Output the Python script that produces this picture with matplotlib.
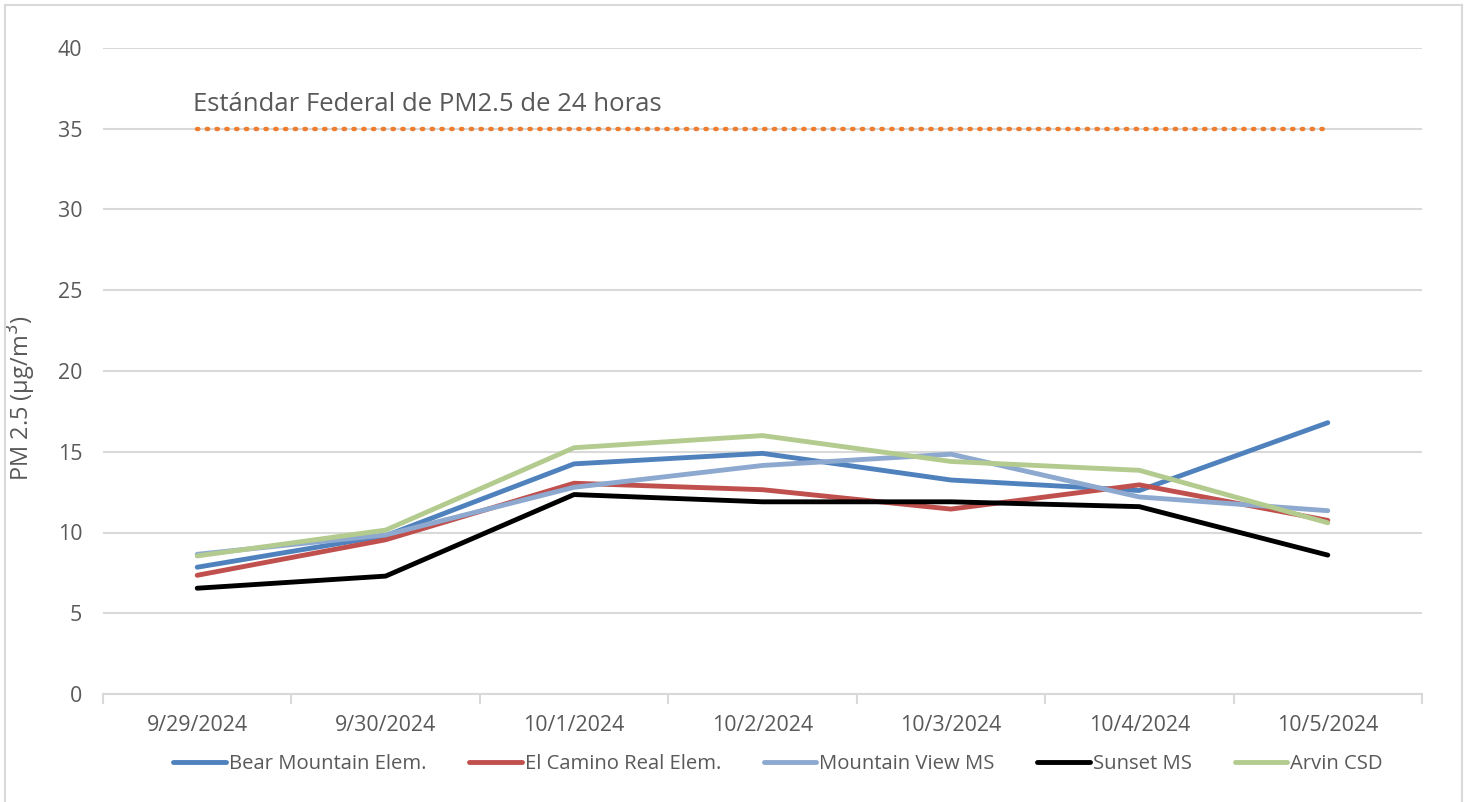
import matplotlib
matplotlib.use("Agg")
import matplotlib.pyplot as plt
from matplotlib.lines import Line2D

dates = ["9/29/2024", "9/30/2024", "10/1/2024", "10/2/2024", "10/3/2024", "10/4/2024", "10/5/2024"]
bear_mountain = [7.85, 9.8, 14.25, 14.9, 13.25, 12.6, 16.8]
el_camino = [7.35, 9.55, 13.05, 12.65, 11.45, 12.95, 10.75]
mountain_view = [8.65, 9.85, 12.8, 14.15, 14.85, 12.2, 11.35]
sunset = [6.55, 7.3, 12.35, 11.9, 11.9, 11.6, 8.6]
arvin = [8.55, 10.15, 15.25, 16.0, 14.4, 13.85, 10.6]
standard = [35] * 7

series = [
    ("Bear Mountain Elem.", bear_mountain, "#4F81BD"),
    ("El Camino Real Elem.", el_camino, "#C0504D"),
    ("Mountain View MS", mountain_view, "#8EA9CF"),
    ("Sunset MS", sunset, "#000000"),
    ("Arvin CSD", arvin, "#B4CB8F"),
]

plt.rcParams['font.family'] = ['Open Sans', 'DejaVu Sans']
text_color = "#595959"

fig = plt.figure(figsize=(14.68, 8.02), dpi=100)
ax = fig.add_axes([103/1468, 1 - 694/802, (1422-103)/1468, (694-48)/802])

x = list(range(len(dates)))
ax.set_ylim(0, 40)
ax.set_xlim(-0.5, len(dates) - 0.5)
ax.set_yticks(range(0, 41, 5))
ax.yaxis.grid(True, color="#D9D9D9", linewidth=1.5)
ax.set_axisbelow(True)

for name, vals, col in series:
    ax.plot(x, vals, color=col, linewidth=3.5, label=name, solid_capstyle="round", solid_joinstyle="round")

ax.plot(x, standard, color="#ED7D31", linewidth=3.2, linestyle=(0, (0.3, 1.9)), dash_capstyle="round")
ax.text(-0.02, 35.75, "Estándar Federal de PM2.5 de 24 horas", fontsize=18.5, color=text_color,
        ha="left", va="bottom")

for s in ["top", "right", "left"]:
    ax.spines[s].set_visible(False)
ax.spines["bottom"].set_color("#D9D9D9")
ax.spines["bottom"].set_linewidth(1.5)

ax.set_xticks(x)
ax.set_xticklabels(dates)
ax.tick_params(axis="x", length=0, labelsize=15.4, labelcolor=text_color, pad=15)
ax.tick_params(axis="y", length=0, labelsize=15.4, labelcolor=text_color, pad=15)
ax.set_xticks([i - 0.5 for i in range(len(dates) + 1)], minor=True)
ax.tick_params(axis="x", which="minor", length=7, color="#D9D9D9", width=1.5)

ax.set_ylabel("PM 2.5 (µg/m$^3$)", fontsize=17, color=text_color)
ax.yaxis.set_label_coords(-0.049, 0.458)

handles = [Line2D([0], [0], color=c, linewidth=3.5, solid_capstyle="round") for _, _, c in series]
labels = [n for n, _, _ in series]
fig.legend(handles, labels, loc="center", bbox_to_anchor=(0.53, 1 - 764/802), ncol=5,
           frameon=False, fontsize=14.6, handlelength=2.6, columnspacing=2.1, handletextpad=0.15,
           labelcolor=text_color)

border = "#D9D9D9"
fig.add_artist(Line2D([5/1468, 5/1468], [0, 1 - 5/802], color=border, linewidth=1.5, transform=fig.transFigure))
fig.add_artist(Line2D([5/1468, 1462/1468], [1 - 5/802, 1 - 5/802], color=border, linewidth=1.5, transform=fig.transFigure))
fig.add_artist(Line2D([1462/1468, 1462/1468], [0, 1 - 5/802], color=border, linewidth=1.5, transform=fig.transFigure))

fig.savefig("out.png", dpi=100)
